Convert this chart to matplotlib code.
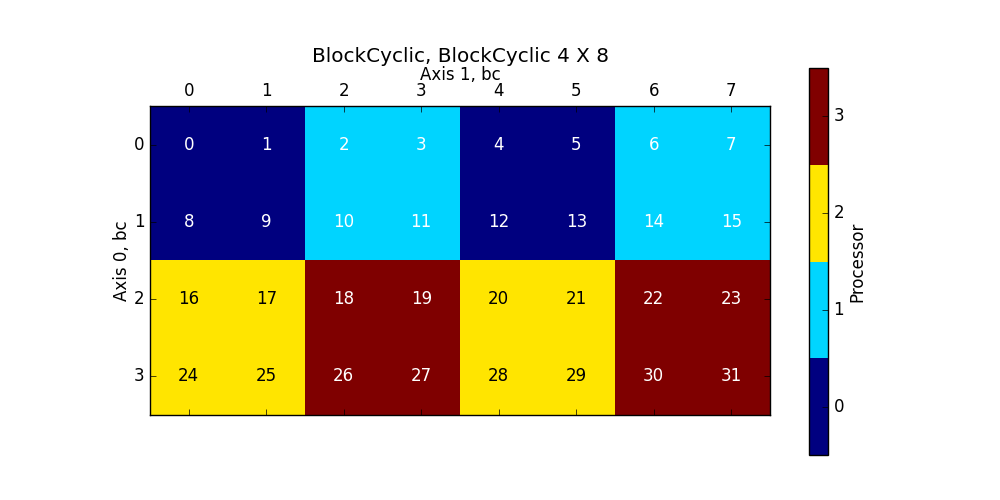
import matplotlib
matplotlib.use('Agg')
import matplotlib.pyplot as plt

plt.style.use('classic')

title = 'BlockCyclic, BlockCyclic 4 X 8'
row_ticks = [0, 1, 2, 3]
col_ticks = [0, 1, 2, 3, 4, 5, 6, 7]
# processor owning each cell
processor = [[0, 0, 1, 1, 0, 0, 1, 1],
             [0, 0, 1, 1, 0, 0, 1, 1],
             [2, 2, 3, 3, 2, 2, 3, 3],
             [2, 2, 3, 3, 2, 2, 3, 3]]
# global index shown in each cell
cell_index = [[0, 1, 2, 3, 4, 5, 6, 7],
              [8, 9, 10, 11, 12, 13, 14, 15],
              [16, 17, 18, 19, 20, 21, 22, 23],
              [24, 25, 26, 27, 28, 29, 30, 31]]

fig = plt.figure(figsize=(10, 5), dpi=100, facecolor='white')
ax = fig.add_axes([0.15, 0.17, 0.62, 0.618])
cax = fig.add_axes([0.809, 0.09, 0.019, 0.774])

cmap = plt.get_cmap('jet', 4)
im = ax.imshow(processor, cmap=cmap, vmin=-0.5, vmax=3.5,
               interpolation='nearest', aspect='auto')

for i, row in enumerate(cell_index):
    for j, v in enumerate(row):
        color = 'black' if processor[i][j] == 2 else 'white'
        ax.text(j, i, str(v), ha='center', va='center', color=color, fontsize=12)

ax.set_xticks(col_ticks)
ax.set_yticks(row_ticks)
ax.xaxis.tick_top()
ax.xaxis.set_ticks_position('both')
ax.xaxis.set_label_position('top')
ax.tick_params(axis='x', labeltop=True, labelbottom=False)
ax.set_xlabel('Axis 1, bc', labelpad=2)
ax.set_ylabel('Axis 0, bc', labelpad=2)
fig.text(0.46, 0.888, title, fontsize=14.4, ha='center', va='center')

cb = fig.colorbar(im, cax=cax, ticks=[0, 1, 2, 3])
cb.set_label('Processor', labelpad=3)

fig.savefig('out.png', dpi=100, facecolor='white')
